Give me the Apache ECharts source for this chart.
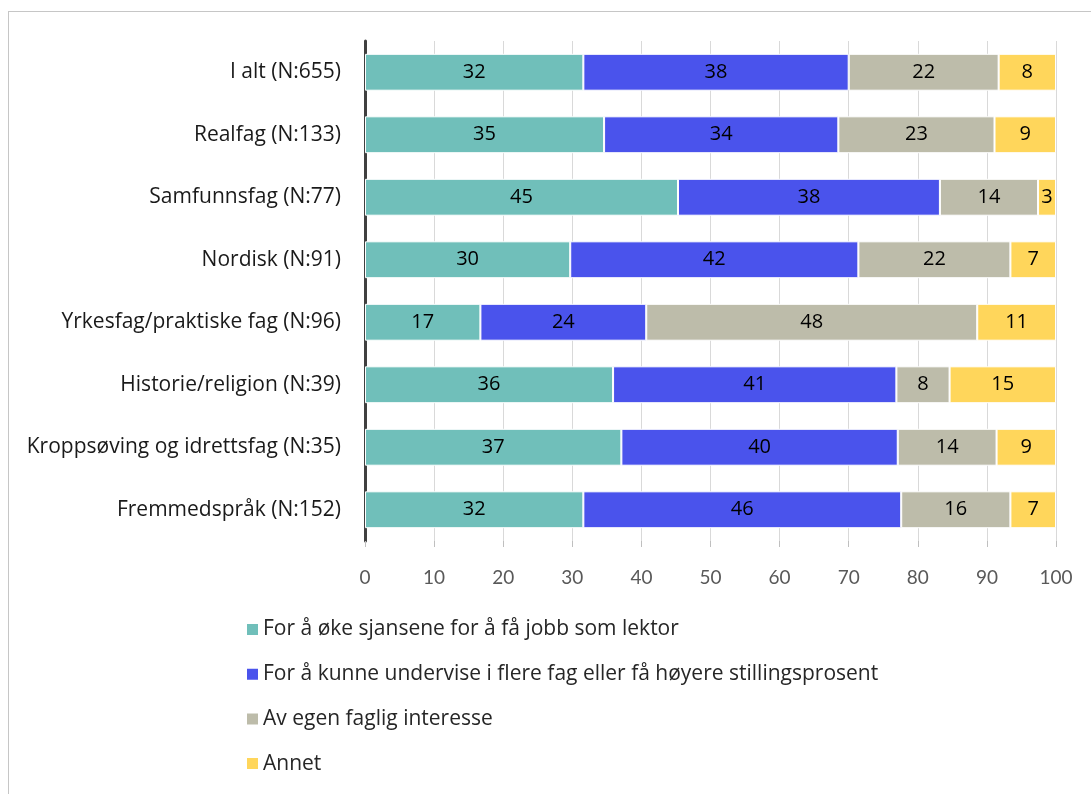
<!DOCTYPE html>
<html>
<head>
<meta charset="utf-8">
<script src="https://cdn.jsdelivr.net/npm/echarts@6/dist/echarts.min.js"></script>
<style>
  html, body { margin: 0; padding: 0; background: #fff; }
  #frame { position: absolute; left: 8px; top: 11px; width: 1100px; height: 800px; border: 1px solid #c6c6c6; box-sizing: border-box; }
  #chart { position: absolute; left: 0; top: 0; width: 1091px; height: 794px; }
</style>
</head>
<body>
<div id="frame"></div>
<div id="chart"></div>
<script>
// kategorier (ovenfra og ned)
var categories = [
  'I alt (N:655)',
  'Realfag (N:133)',
  'Samfunnsfag (N:77)',
  'Nordisk (N:91)',
  'Yrkesfag/praktiske fag (N:96)',
  'Historie/religion (N:39)',
  'Kroppsøving og idrettsfag (N:35)',
  'Fremmedspråk (N:152)'
];
var seriesNames = [
  'For å øke sjansene for å få jobb som lektor',
  'For å kunne undervise i flere fag eller få høyere stillingsprosent',
  'Av egen faglig interesse',
  'Annet'
];
// prosent, lest av figuren
var jobbLektor   = [31.6, 34.6, 45.3, 29.7, 16.7, 35.9, 37.1, 31.6];
var flereFag     = [38.4, 33.9, 37.9, 41.7, 24.0, 41.0, 40.0, 46.0];
var faglig       = [21.7, 22.6, 14.2, 22.0, 47.9,  7.7, 14.3, 15.8];
var annet        = [ 8.3,  8.9,  2.6,  6.6, 11.4, 15.4,  8.6,  6.6];
var xTicks = [0, 10, 20, 30, 40, 50, 60, 70, 80, 90, 100];

var colors = ['#70bfba', '#4a53ec', '#bdbcaa', '#ffd65b'];
var font = '"Open Sans", Lato, sans-serif';

var chart = echarts.init(document.getElementById('chart'));

function mk(i, data) {
  return {
    name: seriesNames[i],
    type: 'bar',
    stack: 'total',
    data: data,
    barCategoryGap: '41%',
    itemStyle: { color: colors[i], borderColor: '#ffffff', borderWidth: 1 },
    label: {
      show: true,
      position: 'inside',
      color: '#000',
      fontFamily: font,
      fontSize: 20,
      formatter: function (p) { return Math.round(p.value); }
    },
    emphasis: { disabled: true }
  };
}

chart.setOption({
  animation: false,
  textStyle: { fontFamily: font },
  grid: { left: 365, right: 35, top: 41, bottom: 253, containLabel: false },
  legend: {
    orient: 'vertical',
    left: 240,
    top: 614,
    itemWidth: 13,
    itemHeight: 13,
    itemGap: 23.7,
    icon: 'rect',
    textStyle: { fontFamily: font, fontSize: 21, color: '#262626', padding: [0, 0, 0, -1] },
    data: seriesNames
  },
  xAxis: {
    type: 'value',
    min: xTicks[0],
    max: xTicks[xTicks.length - 1],
    interval: 10,
    axisLine: { show: false },
    axisTick: { show: true, length: 6, lineStyle: { color: '#bfbfbf' } },
    splitLine: { show: true, lineStyle: { color: '#d9d9d9', width: 1 } },
    axisLabel: { color: '#595959', fontSize: 19, fontFamily: 'Lato, sans-serif', margin: 27 }
  },
  yAxis: {
    type: 'category',
    inverse: true,
    data: categories,
    axisLine: { show: true, lineStyle: { color: '#404040', width: 3 } },
    axisTick: { show: false },
    axisLabel: { color: '#1a1a1a', fontSize: 21, fontFamily: font, margin: 24 }
  },
  series: [
    mk(0, jobbLektor),
    mk(1, flereFag),
    mk(2, faglig),
    mk(3, annet)
  ]
});

window.onresize = function () { chart.resize(); };
</script>
</body>
</html>
